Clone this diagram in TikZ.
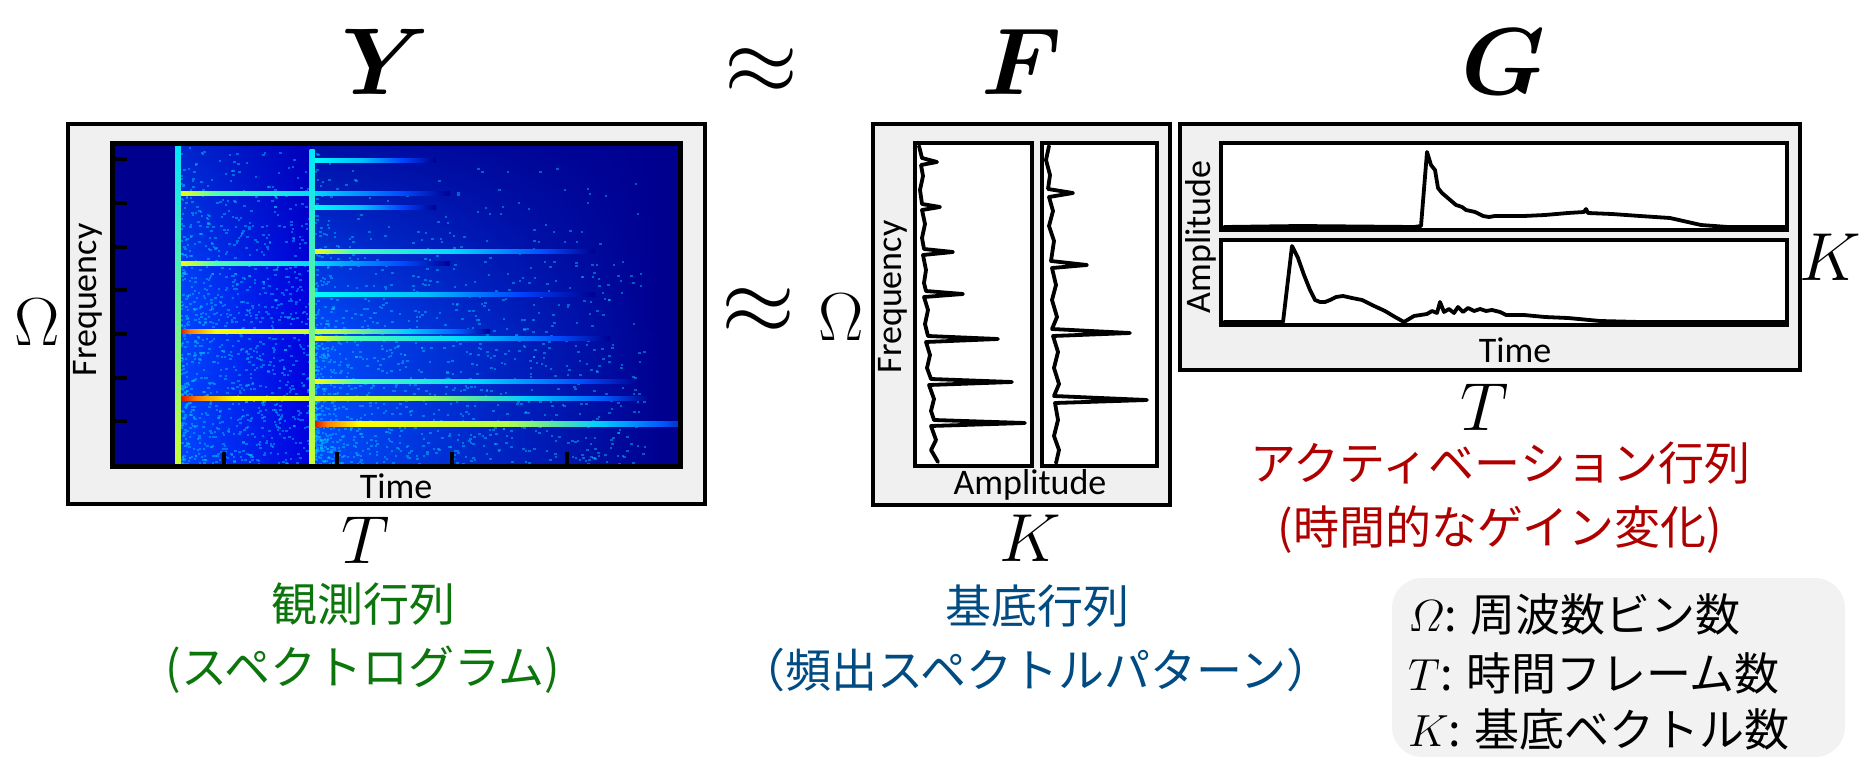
\RequirePackage{fix-cm}
\documentclass[tikz,border=0pt]{standalone}
\usepackage{amsmath}
\usepackage{fontspec}
\newfontfamily\calfam{Carlito}
\newfontfamily\jpfam{Noto Sans CJK JP}
\usetikzlibrary{fadings}
\definecolor{boxgray}{RGB}{240,240,240}
\definecolor{legendgray}{RGB}{242,242,242}
\definecolor{jpgreen}{RGB}{12,118,12}
\definecolor{jpblue}{RGB}{0,75,130}
\definecolor{jpred}{RGB}{175,0,0}
\definecolor{jetdark}{RGB}{0,0,143}
\definecolor{jetblue}{RGB}{0,0,255}
\definecolor{jetlb}{RGB}{0,128,255}
\definecolor{jetcyan}{RGB}{0,255,255}
\definecolor{jetyellow}{RGB}{255,255,0}
\definecolor{jetorange}{RGB}{255,128,0}
\definecolor{jetred}{RGB}{215,0,0}
\pgfdeclarehorizontalshading{jetA}{100bp}{color(0bp)=(jetred); color(25bp)=(jetred); color(27bp)=(jetorange); color(31bp)=(jetyellow); color(50bp)=(jetyellow!70!jetcyan); color(62bp)=(jetcyan!60!jetlb); color(70bp)=(jetlb!70!jetblue); color(75bp)=(jetdark); color(100bp)=(jetdark)}
\pgfdeclarehorizontalshading{jetB}{100bp}{color(0bp)=(jetyellow); color(25bp)=(jetyellow); color(32bp)=(jetcyan!70!jetyellow); color(50bp)=(jetcyan!70!jetlb); color(66bp)=(jetlb!60!jetblue); color(75bp)=(jetdark); color(100bp)=(jetdark)}
\pgfdeclarehorizontalshading{jetC}{100bp}{color(0bp)=(jetcyan); color(25bp)=(jetcyan); color(45bp)=(jetcyan!50!jetlb); color(62bp)=(jetlb!50!jetblue); color(75bp)=(jetdark); color(100bp)=(jetdark)}
\newcommand{\bigsz}{\fontsize{95}{100}\selectfont}
\newcommand{\dimsz}{\fontsize{68}{72}\selectfont}
\newcommand{\axsz}{\calfam\fontsize{36}{40}\selectfont}
\newcommand{\jpsz}{\jpfam\fontsize{46}{50}\selectfont}
\newcommand{\legsz}{\fontsize{45}{50}\selectfont}
\tikzset{
  outerbox/.style={draw=black, line width=3.5pt, fill=boxgray},
  panelbox/.style={draw=black, line width=4.5pt, fill=white},
  curve/.style={draw=black, line width=3.8pt, line join=round, line cap=round},
  bigsym/.style={inner sep=0pt, font=\bigsz},
  dimlab/.style={inner sep=0pt, font=\dimsz},
  axlab/.style={inner sep=0pt, font=\axsz},
  jplab/.style={inner sep=0pt, font=\jpsz},
  leglab/.style={inner sep=0pt, anchor=west, font=\legsz},
  tick/.style={draw=black, line width=4pt},
  speck/.style={fill=jetcyan!60!jetlb, opacity=0.45},
}
\begin{document}
\begin{tikzpicture}[x=1pt, y=-1pt]
\useasboundingbox (0,0) rectangle (1864,757);
% ---------- headings ----------
\node[bigsym] (Ylab) at (386,62) {$\boldsymbol{Y}$};
\node[bigsym] (apxtop) at (761,72) {$\approx$};
\node[bigsym] (Flab) at (1022,62) {$\boldsymbol{F}$};
\node[bigsym] (Glab) at (1504,62) {$\boldsymbol{G}$};
% ---------- Y box ----------
\draw[outerbox] (68,124) rectangle (705,504);
\begin{scope}
  \clip (112,144) rectangle (680,466);
  \fill[jetdark] (112,144) rectangle (680,466);
  \shade[left color=jetlb!55!jetblue, right color=jetblue!70!jetdark] (178,144) rectangle (312,466);
  \shade[left color=jetlb!60!jetblue, right color=jetdark] (312,144) rectangle (660,466);
  \fill[jetdark, path fading=south, opacity=0.8] (312,144) rectangle (680,330);
  \fill[jetdark, path fading=south, opacity=0.45] (178,144) rectangle (312,300);
  \pgfmathsetseed{42}
  \foreach \i in {1,...,1100}{
    \pgfmathsetmacro{\sx}{180+132*pow(rnd,1.4)}
    \pgfmathsetmacro{\sy}{144+322*pow(rnd,0.7)}
    \fill[speck] (\sx,\sy) rectangle ++(2.5,2);
  }
  \foreach \i in {1,...,1300}{
    \pgfmathsetmacro{\sx}{314+330*pow(rnd,2)}
    \pgfmathsetmacro{\sy}{144+322*pow(rnd,0.45)}
    \fill[speck] (\sx,\sy) rectangle ++(2.5,2);
  }
  % harmonics of first note
  \shade[shading=jetB] (178,191) rectangle (450,195);
  \shade[shading=jetB] (178,261) rectangle (450,265);
  \shade[shading=jetA] (178,329) rectangle (490,333);
  \shade[shading=jetA] (178,396) rectangle (650,400.5);
  % harmonics of second note
  \shade[shading=jetC] (312,159) rectangle (436,163);
  \shade[shading=jetC] (312,205) rectangle (436,209);
  \shade[shading=jetB] (312,249) rectangle (595,253);
  \shade[shading=jetC] (312,292) rectangle (595,296);
  \shade[shading=jetB] (312,336) rectangle (610,340);
  \shade[shading=jetB] (312,379) rectangle (640,383);
  \shade[shading=jetA] (312,421) rectangle (700,426);
  % onsets
  \shade[bottom color=jetyellow!80!jetcyan, top color=jetcyan!80!jetlb] (175.5,144) rectangle (180.5,466);
  \shade[bottom color=jetyellow!80!jetcyan, top color=jetcyan!80!jetlb] (309.5,150) rectangle (314.5,466);
\end{scope}
\draw[black, line width=5pt] (112,144) rectangle (680,466);
\foreach \ty in {159,203,247,290,334,378,421}{
  \draw[tick] (112,\ty) -- (127,\ty);
}
\foreach \tx in {224,337,452,567}{
  \draw[tick] (\tx,466) -- (\tx,452);
}
\node[axlab, rotate=90] (Yfreq) at (88,300) {Frequency};
\node[axlab] (Ytime) at (396,486) {Time};
\node[dimlab] (Yomega) at (37,322) {$\Omega$};
\node[dimlab] (YT) at (366,540) {$T$};
\node[jplab, text=jpgreen] (Yname) at (363,604) {観測行列};
\node[jplab, text=jpgreen] (Ysub) at (363,670) {(スペクトログラム)};
% ---------- middle approx ----------
\node[bigsym] (apxmid) at (758,312) {$\approx$};
\node[dimlab] (Fomega) at (841,317) {$\Omega$};
% ---------- F box ----------
\draw[outerbox] (873,124) rectangle (1170,505);
\draw[panelbox] (915,143) rectangle (1032,466);
\draw[panelbox] (1042,143) rectangle (1157,466);
\draw[curve] (919,146) -- (922,158) -- (937,162) -- (921,165) -- (923,176) -- (920,190) -- (922,204)
  -- (940,207) -- (922,210) -- (925,224) -- (922,238) -- (924,249) -- (953,252) -- (923,255)
  -- (926,270) -- (924,283) -- (926,291) -- (963,294) -- (924,297) -- (928,310) -- (925,324)
  -- (928,336) -- (998,339) -- (926,342) -- (930,355) -- (927,368) -- (931,379) -- (1012,382)
  -- (929,385) -- (934,399) -- (931,411) -- (934,420) -- (1025,423) -- (931,426) -- (936,440)
  -- (931,450) -- (938,462);
\draw[curve] (1049,146) -- (1046,160) -- (1050,175) -- (1048,189) -- (1073,193) -- (1049,197)
  -- (1053,211) -- (1049,226) -- (1054,241) -- (1051,261) -- (1087,265) -- (1052,268)
  -- (1056,285) -- (1052,300) -- (1057,317) -- (1052,329) -- (1130,333) -- (1053,336)
  -- (1058,352) -- (1054,368) -- (1059,384) -- (1054,396) -- (1147,400) -- (1055,403)
  -- (1058,420) -- (1054,436) -- (1059,450) -- (1056,463);
\node[axlab, rotate=90] (Ffreq) at (893,297) {Frequency};
\node[axlab] (Famp) at (1030,485) {Amplitude};
\node[dimlab] (FK) at (1030,538) {$K$};
\node[jplab, text=jpblue] (Fname) at (1037,606) {基底行列};
\node[jplab, text=jpblue] (Fsub) at (1036,670) {（頻出スペクトルパターン）};
% ---------- G box ----------
\draw[outerbox] (1180,124) rectangle (1800,370);
\draw[panelbox] (1221,143) rectangle (1787,230);
\draw[panelbox] (1221,240) rectangle (1787,325);
\draw[curve] (1224,227) -- (1300,226) -- (1414,227) -- (1421,226) -- (1427,152) -- (1431,165)
  -- (1435,170) -- (1438,188) -- (1442,193) -- (1449,199) -- (1456,205) -- (1462,207)
  -- (1466,210) -- (1475,212) -- (1483,216) -- (1489,217) -- (1495,216) -- (1505,216)
  -- (1524,216) -- (1545,215) -- (1568,213) -- (1584,212) -- (1586,209) -- (1588,213)
  -- (1612,214) -- (1640,216) -- (1670,218) -- (1701,225) -- (1728,227) -- (1785,227);
\draw[curve] (1224,322) -- (1283,322) -- (1292,246) -- (1298,258) -- (1304,275) -- (1310,290)
  -- (1315,300) -- (1320,302) -- (1325,302) -- (1330,300) -- (1336,297) -- (1343,296)
  -- (1352,298) -- (1362,300) -- (1372,305) -- (1385,311) -- (1395,317) -- (1404,322)
  -- (1414,316) -- (1427,314) -- (1432,311) -- (1437,313) -- (1440,302) -- (1444,312)
  -- (1449,309) -- (1454,313) -- (1458,307) -- (1463,312) -- (1468,308) -- (1474,311)
  -- (1480,309) -- (1486,311) -- (1492,310) -- (1500,312) -- (1506,315) -- (1524,315)
  -- (1545,317) -- (1568,318) -- (1600,321) -- (1640,322) -- (1700,322) -- (1785,322);
\node[axlab, rotate=90] (Gamp) at (1201,237) {Amplitude};
\node[axlab] (Gtime) at (1515,350) {Time};
\node[dimlab] (GK) at (1830,257) {$K$};
\node[dimlab] (GT) at (1485,407) {$T$};
\node[jplab, text=jpred] (Gname) at (1500,463) {アクティベーション行列};
\node[jplab, text=jpred] (Gsub) at (1500,530) {(時間的なゲイン変化)};
% ---------- legend ----------
\fill[legendgray, rounded corners=30pt] (1392,578) rectangle (1845,757);
\node[leglab] (leg1) at (1408,615) {$\varOmega$\jpfam: 周波数ビン数};
\node[leglab] (leg2) at (1408,673) {$T$\jpfam: 時間フレーム数};
\node[leglab] (leg3) at (1408,729) {$K$\jpfam: 基底ベクトル数};
\end{tikzpicture}
\end{document}
